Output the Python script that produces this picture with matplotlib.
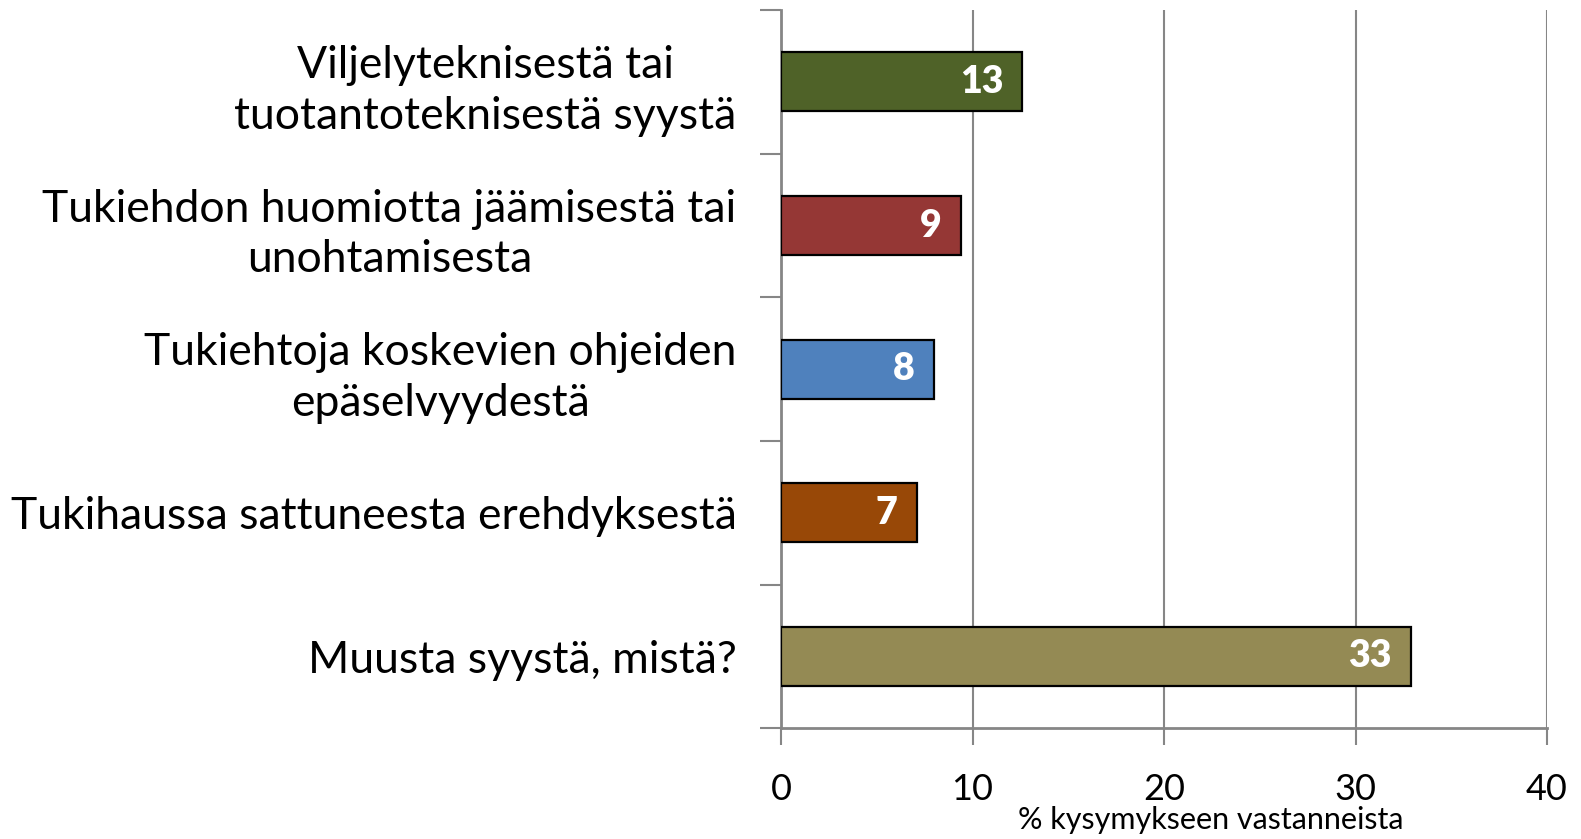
import matplotlib
matplotlib.use("Agg")
import matplotlib.pyplot as plt

categories = [
    "Viljelyteknisestä tai\ntuotantoteknisestä syystä",
    "Tukiehdon huomiotta jäämisestä tai\nunohtamisesta",
    "Tukiehtoja koskevien ohjeiden\nepäselvyydestä",
    "Tukihaussa sattuneesta erehdyksestä",
    "Muusta syystä, mistä?",
]
values = [12.6, 9.4, 8.0, 7.1, 32.9]
colors = ["#4F6228", "#953735", "#4F81BD", "#984807", "#948A54"]
xticks = [0, 10, 20, 30, 40]
xlabel = "% kysymykseen vastanneista"

plt.rcParams['font.family'] = ['Lato', 'DejaVu Sans']

fig = plt.figure(figsize=(15.81, 8.39), dpi=100)
ax = fig.add_axes([0.494, 0.132, 0.4845, 0.856])

grey = "#868686"
ypos = list(range(len(categories)))
bars = ax.barh(ypos, values, height=0.41, color=colors, edgecolor="black", linewidth=1.6, zorder=3)

for b, v in zip(bars, values):
    ax.text(b.get_width() - 1.0, b.get_y() + b.get_height() / 2, "%.0f" % v,
            ha="right", va="center", color="white", fontsize=27, fontweight="heavy", zorder=4)

ax.set_xlim(0, 40)
ax.set_ylim(len(categories) - 0.5, -0.5)
ax.set_xticks(xticks)
ax.set_xticklabels([str(t) for t in xticks], fontsize=26)
ax.tick_params(axis="x", length=12, width=1.5, color=grey, pad=20)

ax.set_yticks(ypos)
ax.set_yticklabels(categories, fontsize=32, multialignment="center", linespacing=1.3)
ax.tick_params(axis="y", which="major", length=0, pad=32)
ax.set_yticks([i - 0.5 for i in range(len(categories) + 1)], minor=True)
ax.tick_params(axis="y", which="minor", length=15, width=1.5, color=grey)

ax.grid(axis="x", color=grey, linewidth=1.5, zorder=0)
for s in ["top", "right"]:
    ax.spines[s].set_visible(False)
for s in ["left", "bottom"]:
    ax.spines[s].set_color(grey)
    ax.spines[s].set_linewidth(2)

ax.set_xlabel(xlabel, fontsize=22, labelpad=0)
ax.xaxis.set_label_coords(0.561, -0.108)

fig.savefig("out.png", dpi=100)
